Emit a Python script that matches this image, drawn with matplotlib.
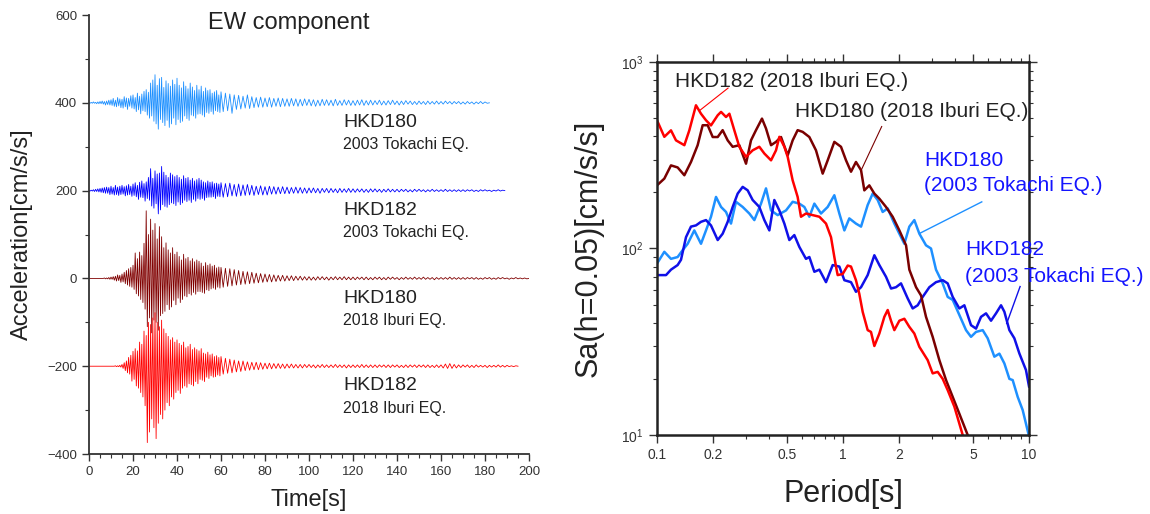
import numpy as np
import matplotlib
matplotlib.use('Agg')
import matplotlib.pyplot as plt
from matplotlib.ticker import MultipleLocator, FixedLocator, NullFormatter, LogLocator

plt.rcParams['font.family'] = ['Liberation Sans', 'DejaVu Sans']
plt.rcParams['mathtext.default'] = 'regular'

# ---------------- left panel: EW acceleration records ----------------
# signed peak amplitudes [cm/s/s]; *_early every 0.5 s from t=0 to 59.5 s,
# *_late every 1 s from t=60 s to the end of the record
t180_early = [
    0, -1, 1, -1, 2, -1, 1, -2, 2, -2,
    3, -2, 4, -3, 3, -5, 4, -4, 6, -5,
    7, -6, 10, -8, 6, -9, 12, -7, 9, -11,
    8, -12, 14, -9, 11, -15, 10, -8, 16, -12,
    18, -14, 12, -20, 22, -16, 15, -25, 20, -18,
    26, -20, 30, -28, 24, -35, 45, -30, 52, -42,
    64, -48, 40, -60, 55, -38, 58, -45, 35, -52,
    50, -40, 44, -56, 38, -48, 52, -35, 42, -50,
    56, -38, 40, -45, 34, -42, 48, -30, 38, -36,
    32, -40, 45, -28, 36, -30, 28, -35, 40, -26,
    30, -25, 38, -28, 26, -32, 34, -22, 28, -24,
    30, -20, 22, -26, 25, -18, 28, -20, 18, -22]
t180_late = [
    25, -20, 22, -18, 20, -24, 18, -15, 17, -14,
    15, -12, 18, -13, 14, -11, 12, -10, 13, -10,
    11, -9, 12, -10, 10, -8, 11, -9, 10, -8,
    9, -8, 10, -7, 9, -8, 8, -7, 9, -6,
    8, -7, 7, -8, 6, -7, 8, -6, 7, -6,
    6, -7, 8, -6, 5, -6, 7, -5, 6, -6,
    5, -6, 6, -5, 7, -6, 5, -5, 6, -5,
    5, -4, 6, -5, 4, -5, 5, -4, 6, -4,
    4, -5, 4, -4, 5, -3, 4, -4, 3, -4,
    4, -3, 3, -4, 4, -3, 3, -3, 4, -3,
    3, -3, 4, -2, 3, -3, 3, -2, 3, -3,
    2, -3, 3, -2, 2, -3, 2, -2, 3, -2,
    2, -1, 0]
t182_early = [
    0, -1, 1, -1, 2, -2, 3, -2, 4, -3,
    5, -4, 6, -5, 7, -6, 8, -6, 7, -9,
    10, -8, 7, -10, 12, -9, 8, -11, 10, -9,
    12, -8, 9, -12, 11, -10, 14, -9, 10, -13,
    15, -11, 18, -14, 12, -20, 19, -15, 22, -16,
    16, -24, 20, -18, 30, -22, 50, -35, 28, -40,
    45, -30, 38, -53, 40, -44, 55, -32, 42, -36,
    35, -38, 30, -32, 40, -28, 36, -30, 32, -34,
    35, -26, 30, -32, 26, -28, 34, -22, 28, -25,
    30, -22, 24, -27, 28, -20, 22, -24, 25, -18,
    28, -20, 24, -18, 20, -22, 18, -16, 22, -15,
    19, -15, 20, -14, 16, -18, 17, -13, 15, -14]
t182_late = [
    18, -15, 16, -14, 17, -12, 14, -13, 15, -12,
    13, -11, 14, -10, 12, -11, 10, -9, 11, -10,
    9, -10, 10, -8, 9, -8, 8, -7, 9, -7,
    8, -7, 7, -6, 8, -6, 7, -6, 6, -6,
    6, -5, 6, -5, 5, -6, 5, -4, 5, -5,
    5, -4, 4, -5, 5, -4, 4, -4, 5, -4,
    4, -4, 4, -3, 4, -4, 3, -4, 4, -3,
    4, -3, 3, -4, 3, -3, 4, -3, 3, -3,
    3, -3, 3, -2, 3, -3, 2, -3, 3, -2,
    3, -2, 2, -3, 2, -2, 3, -2, 2, -2,
    2, -2, 3, -2, 2, -2, 2, -2, 2, -2,
    2, -2, 2, -1, 2, -2, 1, -2, 2, -1,
    2, -1, 1, -2, 1, -1, 2, -1, 1, 0]
i180_early = [
    0, 0, 0, 0, 0, 0, 0, 0, 0, 0,
    0, 0, 0, 0, 1, -1, 1, -1, 2, -2,
    3, -2, 4, -4, 5, -6, 8, -5, 7, -9,
    10, -8, 14, -12, 18, -15, 22, -18, 25, -20,
    30, -25, 58, -35, 45, -40, 60, -48, 52, -55,
    80, -70, 154, -110, 100, -90, 135, -124, 110, -95,
    125, -100, 90, -118, 118, -85, 95, -80, 70, -75,
    81, -60, 65, -71, 58, -65, 70, -50, 55, -60,
    60, -45, 50, -55, 42, -48, 55, -40, 45, -42,
    48, -35, 40, -38, 45, -32, 38, -36, 42, -30,
    39, -30, 35, -32, 28, -34, 36, -26, 30, -28,
    33, -24, 28, -22, 30, -25, 24, -20, 26, -22]
i180_late = [
    25, -20, 23, -18, 22, -17, 20, -15, 18, -14,
    16, -13, 15, -12, 14, -11, 12, -10, 11, -9,
    10, -8, 9, -8, 8, -7, 7, -6, 7, -6,
    6, -5, 6, -5, 5, -4, 5, -4, 4, -4,
    4, -4, 3, -4, 4, -3, 4, -3, 3, -4,
    3, -3, 4, -3, 3, -3, 4, -3, 3, -3,
    3, -3, 3, -2, 3, -3, 3, -3, 2, -3,
    3, -2, 3, -3, 2, -3, 3, -2, 3, -2,
    2, -3, 2, -2, 3, -2, 2, -2, 3, -2,
    2, -2, 3, -2, 2, -2, 2, -3, 2, -2,
    2, -2, 2, -2, 3, -2, 2, -2, 2, -2,
    2, -2, 2, -1, 2, -2, 2, -2, 1, -2,
    2, -1, 2, -2, 1, -2, 2, -1, 2, -1,
    1, -2, 1, -1, 2, -1, 1, -1, 1, -1,
    0]
i182_early = [
    0, 0, 0, 0, 0, 0, 0, 0, 0, 0,
    0, 0, 0, 0, 0, 0, 0, 0, 0, 0,
    0, 0, 0, 0, 1, -1, 1, -1, 2, -2,
    4, -5, 8, -10, 12, -15, 20, -18, 25, -34,
    34, -30, 40, -45, 35, -50, 55, -60, 50, -70,
    80, -90, 70, -174, 100, -150, 95, -120, 110, -140,
    122, -165, 100, -130, 90, -110, 105, -120, 85, -100,
    75, -83, 68, -90, 60, -70, 65, -75, 55, -60,
    60, -55, 52, -62, 48, -50, 55, -45, 42, -48,
    45, -40, 50, -42, 38, -45, 42, -35, 38, -40,
    35, -30, 40, -32, 30, -35, 28, -25, 32, -28,
    26, -22, 28, -25, 22, -24, 24, -20, 20, -22]
i182_late = [
    22, -18, 18, -16, 16, -15, 14, -13, 12, -12,
    12, -10, 10, -9, 9, -8, 9, -8, 8, -7,
    7, -6, 7, -6, 6, -5, 6, -5, 5, -5,
    5, -4, 5, -4, 4, -4, 4, -4, 4, -3,
    4, -3, 3, -4, 3, -3, 4, -3, 3, -3,
    3, -3, 4, -3, 3, -3, 3, -4, 3, -3,
    3, -3, 3, -3, 4, -3, 3, -3, 3, -3,
    3, -3, 3, -2, 3, -3, 3, -3, 3, -2,
    3, -3, 2, -3, 3, -3, 3, -2, 3, -3,
    3, -2, 3, -3, 3, -3, 2, -3, 3, -3,
    3, -4, 5, -5, 6, -5, 4, -4, 3, -3,
    3, -2, 3, -3, 2, -3, 3, -2, 2, -2,
    2, -3, 2, -2, 2, -2, 3, -2, 2, -2,
    2, -1, 1, -1, 1, 0]

records = [(t180_early, t180_late), (t182_early, t182_late),
           (i180_early, i180_late), (i182_early, i182_late)]
offsets = [400, 200, 0, -200]
rec_colors = ['#1e90ff', '#0000ff', '#800000', '#ff0000']
rec_names = ['HKD180', 'HKD182', 'HKD180', 'HKD182']
rec_events = ['2003 Tokachi EQ.', '2003 Tokachi EQ.', '2018 Iburi EQ.', '2018 Iburi EQ.']

# ---------------- right panel: response spectra (h=0.05) ----------------
t_r182 = [0.1, 0.1095, 0.1189, 0.1265, 0.1403, 0.1492, 0.162, 0.1724, 0.1834, 0.1951,
          0.212, 0.221, 0.235, 0.245, 0.2605, 0.2771, 0.301, 0.3268, 0.3549, 0.3777,
          0.4103, 0.4363, 0.4548, 0.4838, 0.5042, 0.5362, 0.5703, 0.5944, 0.6323, 0.6869,
          0.7462, 0.8102, 0.862, 0.8982, 0.917, 0.936, 0.996, 1.06, 1.104, 1.174,
          1.224, 1.276, 1.357, 1.414, 1.474, 1.568, 1.668, 1.739, 1.811, 1.888,
          2.009, 2.137, 2.273, 2.418, 2.573, 2.852, 3.034, 3.228, 3.435, 3.654,
          3.968, 4.4]
sa_r182 = [487, 397, 430, 380, 358, 430, 586, 528, 487, 457,
           518, 540, 507, 528, 430, 351, 310, 336, 351, 323,
           297, 336, 397, 351, 310, 232, 189, 148, 154, 151,
           148, 136, 115, 90, 80, 72, 73, 81, 80, 67.6,
           57, 45.7, 36.5, 35.7, 30, 35, 43, 46.8, 41, 36.5,
           41, 42, 38, 35, 29.7, 25.2, 21.4, 21.8, 20, 17.4,
           14.2, 10]

t_r180 = [0.1, 0.1095, 0.1189, 0.1291, 0.1403, 0.1523, 0.1654, 0.176, 0.1873, 0.1993,
          0.212, 0.2254, 0.2399, 0.2552, 0.2771, 0.301, 0.3201, 0.3406, 0.3668, 0.3855,
          0.4103, 0.4363, 0.4642, 0.5042, 0.5362, 0.5703, 0.6069, 0.6592, 0.7157, 0.7776,
          0.8272, 0.8982, 0.9755, 1.038, 1.104, 1.174, 1.25, 1.302, 1.385, 1.474,
          1.568, 1.703, 1.849, 2.009, 2.182, 2.273, 2.47, 2.627, 2.794, 3.034,
          3.296, 3.58, 3.888, 4.222, 4.68]
sa_r180 = [218, 237, 279, 272, 247, 291, 358, 458, 458, 396,
           396, 431, 380, 351, 358, 285, 380, 431, 497, 440,
           358, 373, 396, 316, 380, 431, 422, 396, 336, 252,
           297, 373, 351, 297, 258, 291, 263, 205, 218, 197,
           185, 167, 148, 125, 104, 77, 62, 56, 43, 33.6,
           25.2, 19.7, 16, 13, 10]

t_t180 = [0.1, 0.1095, 0.1189, 0.1291, 0.1374, 0.1462, 0.1587, 0.1724, 0.1834, 0.1951,
          0.2076, 0.221, 0.235, 0.2499, 0.2659, 0.2888, 0.3136, 0.3337, 0.3624, 0.3855,
          0.4103, 0.4453, 0.4938, 0.5362, 0.5824, 0.6196, 0.6592, 0.7014, 0.7616, 0.8272,
          0.8982, 0.9557, 1.017, 1.081, 1.174, 1.25, 1.357, 1.444, 1.536, 1.634,
          1.739, 1.888, 2.009, 2.137, 2.273, 2.418, 2.573, 2.794, 2.972, 3.162,
          3.435, 3.654, 3.888, 4.222, 4.585, 4.877, 5.189, 5.636, 5.995, 6.511,
          6.93, 7.37, 7.841, 8.17, 8.694, 9.247, 9.96]
sa_t180 = [83, 96, 88, 90, 98, 106, 125, 106, 125, 148,
           189, 167, 157, 136, 178, 167, 154, 142, 174, 210,
           160, 151, 160, 178, 174, 167, 148, 174, 154, 167,
           193, 154, 125, 145, 136, 131, 171, 197, 182, 157,
           164, 136, 120, 106, 131, 142, 120, 104, 100, 77,
           65, 55, 53, 44, 36.5, 33.6, 35.7, 36.5, 33, 26.3,
           27.3, 24.2, 20, 19.7, 16, 13.6, 10]

t_t182 = [0.1, 0.1118, 0.1189, 0.1291, 0.1346, 0.1432, 0.1523, 0.162, 0.1724, 0.1834,
          0.1951, 0.212, 0.2254, 0.2399, 0.2552, 0.2715, 0.2888, 0.3072, 0.3268, 0.3549,
          0.3777, 0.4018, 0.4273, 0.4548, 0.4838, 0.5146, 0.5474, 0.5824, 0.6323, 0.6592,
          0.7014, 0.7462, 0.8102, 0.88, 0.9557, 1.017, 1.104, 1.174, 1.25, 1.357,
          1.474, 1.568, 1.703, 1.812, 1.927, 2.05, 2.227, 2.369, 2.52, 2.681,
          2.912, 3.162, 3.435, 3.654, 3.888, 4.222, 4.491, 4.877, 5.189, 5.52,
          5.873, 6.247, 6.647, 7.072, 7.37, 7.841, 8.341, 8.87, 9.63, 10.0]
sa_t182 = [72, 72, 77, 81.5, 87, 115, 131, 133, 139, 142,
           133, 111, 120, 139, 167, 197, 214, 205, 182, 167,
           142, 125, 182, 160, 136, 111, 118, 102, 88, 90,
           75, 77, 66, 81.5, 80, 67.6, 66, 58.6, 62, 72,
           92, 81.5, 70.5, 61, 62, 65, 54, 47.7, 49.6, 55,
           62, 66, 67.6, 65, 55, 47.7, 49.6, 38.8, 37.2, 43,
           44.9, 41, 44.9, 49.6, 45.8, 36.5, 33, 27.4, 22.3, 18.2]

spectra = [(t_t180, sa_t180, '#1e90ff'), (t_t182, sa_t182, '#1010e8'),
           (t_r180, sa_r180, '#7a0000'), (t_r182, sa_r182, '#ff0000')]

fig = plt.figure(figsize=(11.5, 5.14), dpi=100)

# ---- left
ax1 = fig.add_axes([0.0774, 0.1167, 0.3826, 0.8541])
for (early, late), off, col in zip(records, offsets, rec_colors):
    t = np.concatenate([np.arange(len(early)) * 0.5, 60 + np.arange(len(late))])
    acc = np.array(early + late, dtype=float)
    ax1.plot(t, acc + off, color=col, lw=0.6)
for off, name, ev in zip(offsets, rec_names, rec_events):
    ax1.text(115.5, off - 45, name, fontsize=14, va='center', color='#222222')
    ax1.text(115.5, off - 96, ev, fontsize=11.5, va='center', color='#222222')
ax1.text(91, 582, 'EW component', fontsize=17, ha='center', va='center', color='#222222')

ax1.set_xlim(0, 200)
ax1.set_ylim(-400, 600)
ax1.xaxis.set_major_locator(MultipleLocator(20))
ax1.xaxis.set_minor_locator(MultipleLocator(5))
ax1.yaxis.set_major_locator(MultipleLocator(200))
ax1.yaxis.set_minor_locator(MultipleLocator(100))
for s in ['top', 'right']:
    ax1.spines[s].set_visible(False)
for s in ['left', 'bottom']:
    ax1.spines[s].set_linewidth(1.3)
    ax1.spines[s].set_color('#333333')
ax1.tick_params(which='both', direction='out', colors='#333333', labelsize=9.5)
ax1.tick_params(which='major', length=5, width=1)
ax1.tick_params(which='minor', length=3, width=0.8)
ax1.set_xlabel('Time[s]', fontsize=17, va='center', color='#222222')
ax1.xaxis.set_label_coords(0.5, -0.105)
ax1.set_ylabel('Acceleration[cm/s/s]', fontsize=17, va='center', color='#222222')
ax1.yaxis.set_label_coords(-0.152, 0.5)

# ---- right
ax2 = fig.add_axes([0.5713, 0.1537, 0.3235, 0.7257])
for t, sa, col in spectra:
    ax2.plot(t, sa, color=col, lw=1.8)
ax2.set_xscale('log')
ax2.set_yscale('log')
ax2.set_xlim(0.1, 10)
ax2.set_ylim(10, 1000)
ax2.xaxis.set_major_locator(FixedLocator([0.1, 0.2, 0.5, 1, 2, 5, 10]))
ax2.xaxis.set_ticklabels(['0.1', '0.2', '0.5', '1', '2', '5', '10'])
ax2.xaxis.set_minor_locator(FixedLocator([0.3, 0.4, 0.6, 0.7, 0.8, 0.9, 3, 4, 6, 7, 8, 9]))
ax2.xaxis.set_minor_formatter(NullFormatter())
ax2.yaxis.set_major_locator(LogLocator(base=10, numticks=5))
ax2.yaxis.set_minor_locator(LogLocator(base=10, subs=np.arange(2, 10), numticks=10))
ax2.yaxis.set_minor_formatter(NullFormatter())
for s in ax2.spines.values():
    s.set_linewidth(1.8)
    s.set_color('#222222')
ax2.tick_params(which='both', direction='out', top=True, right=True,
                colors='#333333', labelsize=10)
ax2.tick_params(which='major', length=6, width=1)
ax2.tick_params(which='minor', length=3, width=0.8)
ax2.set_xlabel('Period[s]', fontsize=22, va='center', color='#222222')
ax2.xaxis.set_label_coords(0.5, -0.158)
ax2.set_ylabel('Sa(h=0.05)[cm/s/s]', fontsize=22, va='center', color='#222222')
ax2.yaxis.set_label_coords(-0.185, 0.5)

# curve labels with leader lines (axes fraction)
blue_txt = '#1414ff'
ax2.text(0.048, 0.949, 'HKD182 (2018 Iburi EQ.)', transform=ax2.transAxes,
         fontsize=15, va='center', color='#222222')
ax2.plot([0.191, 0.116], [0.930, 0.871], transform=ax2.transAxes, color='#ff0000', lw=0.8)
ax2.text(0.371, 0.867, 'HKD180 (2018 Iburi EQ.)', transform=ax2.transAxes,
         fontsize=15, va='center', color='#222222')
ax2.plot([0.604, 0.548], [0.827, 0.708], transform=ax2.transAxes, color='#7a0000', lw=0.8)
ax2.text(0.718, 0.737, 'HKD180', transform=ax2.transAxes,
         fontsize=15, va='center', color=blue_txt, clip_on=False)
ax2.text(0.718, 0.670, '(2003 Tokachi EQ.)', transform=ax2.transAxes,
         fontsize=15, va='center', color=blue_txt, clip_on=False)
ax2.plot([0.873, 0.707], [0.625, 0.541], transform=ax2.transAxes, color='#1e90ff', lw=1.0)
ax2.text(0.828, 0.496, 'HKD182', transform=ax2.transAxes,
         fontsize=15, va='center', color=blue_txt, clip_on=False)
ax2.text(0.828, 0.424, '(2003 Tokachi EQ.)', transform=ax2.transAxes,
         fontsize=15, va='center', color=blue_txt, clip_on=False)
ax2.plot([0.976, 0.940], [0.398, 0.299], transform=ax2.transAxes, color='#1010e8', lw=1.0)

fig.savefig('out.png', dpi=100)
